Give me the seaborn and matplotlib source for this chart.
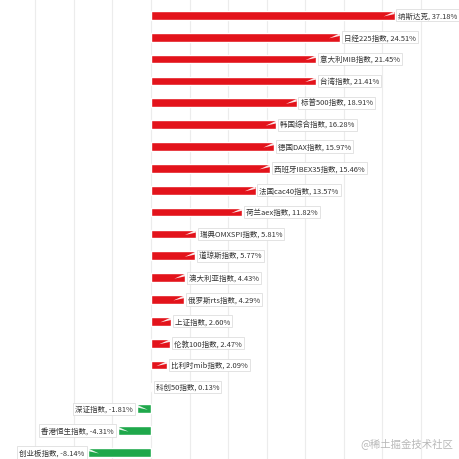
import matplotlib
matplotlib.use("Agg")
import matplotlib.pyplot as plt
import seaborn as sns
import pandas as pd
from matplotlib.patches import Polygon

# --- Data ---
names = ["纳斯达克", "日经225指数", "意大利MIB指数", "台湾指数", "标普500指数",
         "韩国综合指数", "德国DAX指数", "西班牙IBEX35指数", "法国cac40指数", "荷兰aex指数",
         "瑞典OMXSPI指数", "道琼斯指数", "澳大利亚指数", "俄罗斯rts指数", "上证指数",
         "伦敦100指数", "比利时mib指数", "科创50指数", "深证指数", "香港恒生指数", "创业板指数"]
values = [37.18, 24.51, 21.45, 21.41, 18.91, 16.28, 15.97, 15.46, 13.57, 11.82,
          5.81, 5.77, 4.43, 4.29, 2.60, 2.47, 2.09, 0.13, -1.81, -4.31, -8.14]

# the longest bar is drawn cut short in the original (axis break)
display_cap = 31.6

df = pd.DataFrame({"name": names, "value": values})
df["shown"] = df["value"].clip(upper=display_cap)
df["sign"] = ["up" if v >= 0 else "down" for v in values]

sns.set_style("white")
plt.rcParams["font.family"] = ["Noto Sans CJK SC", "DejaVu Sans"]

fig = plt.figure(figsize=(4.6, 4.6), dpi=100)
ax = fig.add_axes([0, 0, 1, 1])

sns.barplot(data=df, y="name", x="shown", hue="sign", orient="h",
            palette={"up": "#e3131b", "down": "#1fa84b"}, saturation=1,
            width=0.4, dodge=False, legend=False, ax=ax)

# ribbon-like white fold at the outer end of every bar
for p in ax.patches:
    w = p.get_width()
    if abs(w) < 0.5:
        continue
    x0, y0, h = p.get_x(), p.get_y(), p.get_height()
    end = x0 + w
    d = 1.4 if w > 0 else -1.4
    tri = Polygon([(end - d, y0 + h * 0.62), (end, y0 + h * 0.05), (end, y0 + h * 0.35)],
                  closed=True, facecolor="white", edgecolor="none", alpha=0.9, zorder=3)
    ax.add_patch(tri)

# labels
for i, (n, v, s) in enumerate(zip(df["name"], df["value"], df["shown"])):
    txt = f"{n}, {v:.2f}%"
    box = dict(boxstyle="square,pad=0.28", facecolor="white", edgecolor="#dedede", linewidth=0.6)
    if v >= 0:
        ax.text(s + 0.5, i, txt, ha="left", va="center", fontsize=5.4,
                color="#333333", bbox=box, zorder=4)
    else:
        ax.text(s - 0.5, i, txt, ha="right", va="center", fontsize=5.4,
                color="#333333", bbox=box, zorder=4)

ax.set_xlim(-19.6, 40.1)
ax.set_ylim(20.3, -0.75)
ax.set_xticks(range(-15, 40, 5))
ax.grid(axis="x", color="#ececec", linewidth=0.8)
ax.set_axisbelow(True)
ax.tick_params(left=False, bottom=False, labelleft=False, labelbottom=False)
ax.set_xlabel("")
ax.set_ylabel("")
for sp in ax.spines.values():
    sp.set_visible(False)

ax.text(0.985, 0.035, "@稀土掘金技术社区", transform=ax.transAxes, ha="right", va="center",
        fontsize=7.5, color="#b8b8b8")

plt.savefig("out.png", dpi=100)
